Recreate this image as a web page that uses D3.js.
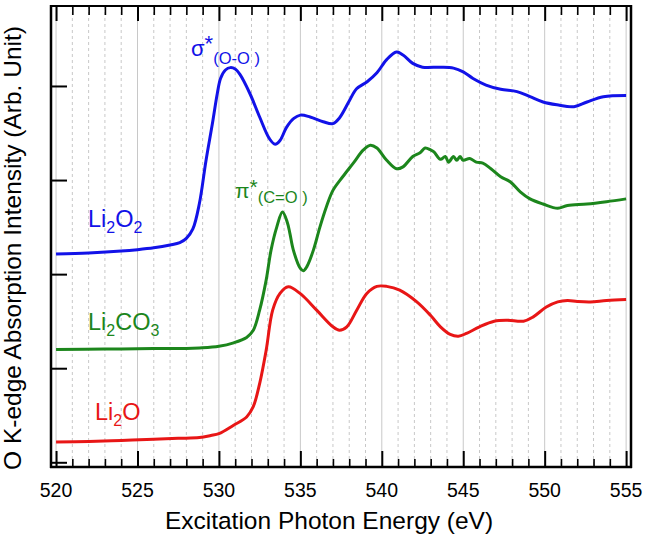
<!DOCTYPE html>
<html>
<head>
<meta charset="utf-8">
<script src="https://cdn.jsdelivr.net/npm/d3@7"></script>
<style>
  html, body { margin: 0; padding: 0; background: #fff; }
  svg { display: block; font-family: "Liberation Sans", Arial, Helvetica, sans-serif; }
</style>
</head>
<body>
<svg id="chart" width="648" height="554"></svg>
<script>
// ---------- DATA ----------
const xTickValues = [520, 525, 530, 535, 540, 545, 550, 555];
const yTickValues = [0, 1, 2, 3, 4];

const li2o2Energy = [520, 522, 524, 525, 526, 527, 527.6, 528.0, 528.4, 528.8, 529.2, 529.6, 529.9, 530.1, 530.4, 530.7, 531.0, 531.3, 531.9, 532.5, 533.1, 533.45, 533.75, 534.15, 534.6, 535.0, 535.6, 536.4, 537.0, 537.4, 538.0, 538.45, 539.1, 539.7, 540.3, 540.9, 541.3, 541.9, 542.5, 543.6, 544.4, 545.0, 545.6, 546.4, 547.3, 548.3, 549.1, 549.9, 550.75, 551.8, 552.6, 553.6, 555];
const li2o2Values = [2.213, 2.225, 2.245, 2.26, 2.28, 2.31, 2.335, 2.38, 2.48, 2.75, 3.20, 3.60, 3.92, 4.08, 4.17, 4.195, 4.18, 4.12, 3.92, 3.67, 3.44, 3.38, 3.42, 3.56, 3.655, 3.69, 3.67, 3.62, 3.60, 3.66, 3.84, 3.97, 4.045, 4.14, 4.28, 4.36, 4.33, 4.24, 4.20, 4.20, 4.19, 4.15, 4.08, 4.01, 3.965, 3.94, 3.886, 3.83, 3.80, 3.78, 3.83, 3.886, 3.90];

const li2co3Energy = [520, 523, 526, 528.0, 528.8, 530.0, 530.9, 531.7, 532.1, 532.5, 532.9, 533.2, 533.55, 533.9, 534.2, 534.36, 534.57, 535.0, 535.18, 535.4, 535.8, 536.2, 536.6, 537.0, 537.6, 538.25, 538.87, 539.3, 539.7, 540.3, 540.9, 541.3, 541.9, 542.35, 542.66, 543.0, 543.2, 543.6, 543.9, 544.1, 544.4, 544.6, 544.8, 545.0, 545.4, 545.8, 546.2, 546.7, 547.3, 547.9, 548.5, 549.1, 549.9, 550.8, 551.4, 552.6, 553.8, 555];
const li2co3Values = [1.199, 1.203, 1.21, 1.21, 1.216, 1.234, 1.27, 1.327, 1.40, 1.617, 1.936, 2.255, 2.50, 2.66, 2.55, 2.43, 2.255, 2.06, 2.035, 2.08, 2.255, 2.50, 2.716, 2.89, 3.035, 3.18, 3.32, 3.37, 3.34, 3.21, 3.12, 3.14, 3.25, 3.29, 3.34, 3.32, 3.30, 3.22, 3.25, 3.19, 3.25, 3.21, 3.25, 3.21, 3.23, 3.19, 3.18, 3.12, 3.035, 2.98, 2.875, 2.80, 2.745, 2.70, 2.73, 2.745, 2.77, 2.80];

const li2oEnergy = [520, 522, 524, 526, 527.5, 528.8, 529.5, 530.0, 530.9, 531.7, 532.1, 532.5, 532.9, 533.3, 533.75, 534.26, 534.98, 536.0, 537.0, 537.4, 537.85, 538.46, 539.08, 539.7, 540.3, 541.1, 542.15, 543.0, 543.6, 544.2, 544.7, 545.2, 546.0, 546.9, 547.7, 548.7, 549.3, 550.1, 550.8, 551.4, 552.0, 552.8, 553.8, 555];
const li2oValues = [0.216, 0.222, 0.232, 0.245, 0.255, 0.263, 0.285, 0.305, 0.394, 0.482, 0.588, 0.837, 1.19, 1.617, 1.795, 1.865, 1.795, 1.617, 1.44, 1.404, 1.44, 1.617, 1.795, 1.87, 1.87, 1.83, 1.705, 1.56, 1.44, 1.36, 1.34, 1.37, 1.44, 1.50, 1.51, 1.50, 1.546, 1.65, 1.705, 1.72, 1.71, 1.705, 1.72, 1.73];

const seriesNames = ["Li2O2", "Li2CO3", "Li2O"];
const seriesColors = ["#1212e8", "#1c861c", "#e81616"];

// ---------- LAYOUT ----------
const svg = d3.select("#chart");
const pLeft = 51, pRight = 631, pTop = 6, pBottom = 467;
const x = d3.scaleLinear().domain([519.69, 555.3]).range([pLeft, pRight]);
const y = d3.scaleLinear().domain([-0.05, 4.85]).range([pBottom, pTop]);

const allTicks = d3.range(520, 556, 1);

// grid
const grid = svg.append("g");
grid.selectAll("line").data(allTicks).enter().append("line")
  .attr("x1", d => x(d)).attr("x2", d => x(d))
  .attr("y1", pTop).attr("y2", pBottom)
  .attr("stroke", "#c8c8c8")
  .attr("stroke-width", 1)
  .attr("stroke-dasharray", d => d % 5 === 0 ? null : "3,3");

// curves
const line = d3.line().x(d => x(d[0])).y(d => y(d[1])).curve(d3.curveCatmullRom.alpha(0.5));
const zip = (a, b) => a.map((v, i) => [v, b[i]]);
const series = [zip(li2o2Energy, li2o2Values), zip(li2co3Energy, li2co3Values), zip(li2oEnergy, li2oValues)];

svg.append("defs").append("clipPath").attr("id", "clip")
  .append("rect").attr("x", pLeft).attr("y", pTop).attr("width", pRight - pLeft).attr("height", pBottom - pTop);

svg.append("g").attr("clip-path", "url(#clip)")
  .selectAll("path").data(series).enter().append("path")
  .attr("d", line)
  .attr("fill", "none")
  .attr("stroke", (d, i) => seriesColors[i])
  .attr("stroke-width", 3)
  .attr("stroke-linejoin", "round");

// axes
const xBottom = d3.axisBottom(x).tickValues(allTicks).tickSizeInner(0).tickSizeOuter(0).tickFormat("");
const gB = svg.append("g").attr("transform", `translate(0,${pBottom})`).call(xBottom);
gB.select(".domain").remove();
gB.selectAll(".tick line").attr("y2", d => d % 5 === 0 ? -16 : -8)
  .attr("stroke", "#000").attr("stroke-width", d => d % 5 === 0 ? 2 : 1.6);

const xTop = d3.axisTop(x).tickValues(allTicks).tickSizeInner(0).tickSizeOuter(0).tickFormat("");
const gT = svg.append("g").attr("transform", `translate(0,${pTop})`).call(xTop);
gT.select(".domain").remove();
gT.selectAll(".tick line").attr("y2", d => d % 5 === 0 ? 15 : 9)
  .attr("stroke", "#000").attr("stroke-width", d => d % 5 === 0 ? 2 : 1.6);

// tick labels
svg.append("g").selectAll("text").data(xTickValues).enter().append("text")
  .attr("x", d => x(d)).attr("y", 496.5)
  .attr("text-anchor", "middle")
  .attr("font-size", 19.5)
  .attr("fill", "#000")
  .text(d => d);

const yLeft = d3.axisLeft(y).tickValues(yTickValues).tickSizeInner(0).tickSizeOuter(0).tickFormat("");
const gL = svg.append("g").attr("transform", `translate(${pLeft},0)`).call(yLeft);
gL.select(".domain").remove();
gL.selectAll(".tick line").attr("x2", 16).attr("stroke", "#000").attr("stroke-width", 2);

// frame
svg.append("line").attr("x1", pLeft - 1).attr("x2", pRight + 1).attr("y1", pTop).attr("y2", pTop).attr("stroke", "#000").attr("stroke-width", 2);
svg.append("line").attr("x1", pLeft - 1).attr("x2", pRight + 1).attr("y1", pBottom).attr("y2", pBottom).attr("stroke", "#000").attr("stroke-width", 2.5);
svg.append("line").attr("x1", pLeft).attr("x2", pLeft).attr("y1", pTop - 1).attr("y2", pBottom + 1).attr("stroke", "#000").attr("stroke-width", 2.5);
svg.append("line").attr("x1", pRight).attr("x2", pRight).attr("y1", pTop - 1).attr("y2", pBottom + 1).attr("stroke", "#000").attr("stroke-width", 2.5);

// axis titles
svg.append("text").attr("x", 329).attr("y", 529).attr("text-anchor", "middle")
  .attr("font-size", 24.5).attr("fill", "#000").text("Excitation Photon Energy (eV)");
svg.append("text").attr("transform", "translate(21,248) rotate(-90)").attr("text-anchor", "middle")
  .attr("font-size", 24.5).attr("fill", "#000").text("O K-edge Absorption Intensity (Arb. Unit)");

// series labels
function chem(xp, yp, parts, color, size, subSize) {
  const t = svg.append("text").attr("x", xp).attr("y", yp).attr("font-size", size).attr("fill", color);
  let shifted = false;
  parts.forEach(p => {
    const s = t.append("tspan").text(p.t);
    if (p.sub) { s.attr("font-size", subSize).attr("dy", shifted ? 0 : 6); shifted = true; }
    else { if (shifted) { s.attr("dy", -6); shifted = false; } }
  });
}
chem(88, 227, [{t: "Li"}, {t: "2", sub: true}, {t: "O"}, {t: "2", sub: true}], seriesColors[0], 23.5, 16);
chem(88, 330, [{t: "Li"}, {t: "2", sub: true}, {t: "CO"}, {t: "3", sub: true}], seriesColors[1], 23.5, 16);
chem(95, 420, [{t: "Li"}, {t: "2", sub: true}, {t: "O"}], seriesColors[2], 23.5, 16);

// peak annotations
const sig = svg.append("text").attr("x", 191).attr("y", 56).attr("font-size", 22).attr("fill", seriesColors[0]);
sig.append("tspan").text("σ");
sig.append("tspan").attr("dy", -5).text("*");
sig.append("tspan").attr("dy", 13).attr("font-size", 16.5).text("(O-O )");

const pi = svg.append("text").attr("x", 235).attr("y", 198).attr("font-size", 21).attr("fill", seriesColors[1]);
pi.append("tspan").text("π");
pi.append("tspan").attr("dy", -4).text("*");
pi.append("tspan").attr("dy", 9).attr("font-size", 16.5).text("(C=O )");
</script>
</body>
</html>
